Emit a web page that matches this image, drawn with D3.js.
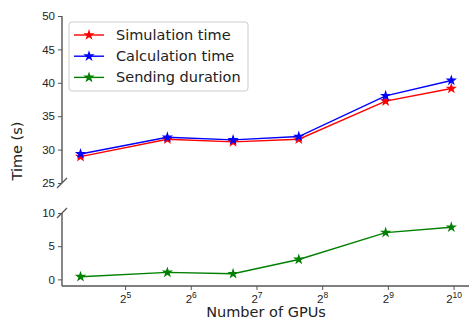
<!DOCTYPE html>
<html>
<head>
<meta charset="utf-8">
<script src="https://cdn.jsdelivr.net/npm/d3@7"></script>
<style>
  body { margin: 0; background: #fff; }
  svg { display: block; font-family: "DejaVu Sans", sans-serif; }
</style>
</head>
<body>
<svg id="chart" width="469" height="325"></svg>
<script>
// data
const gpus = [20, 50, 100, 200, 500, 1000];
const simulationTime = [28.95, 31.55, 31.15, 31.55, 37.25, 39.15];
const calculationTime = [29.35, 31.85, 31.45, 31.95, 38.05, 40.35];
const sendingDuration = [0.4, 1.05, 0.85, 3.0, 7.05, 7.85];
const xTickExps = [5, 6, 7, 8, 9, 10];
const topTicks = [25, 30, 35, 40, 45, 50];
const bottomTicks = [0, 5, 10];

const series = [
  { name: "Simulation time", values: simulationTime, color: "red", panel: "top" },
  { name: "Calculation time", values: calculationTime, color: "blue", panel: "top" },
  { name: "Sending duration", values: sendingDuration, color: "green", panel: "bottom" }
];

const svg = d3.select("svg#chart");
const left = 62, right = 470;
const axisColor = "#555";

const x = d3.scaleLog().base(2)
  .domain([Math.pow(2, 4.04), Math.pow(2, 10.25)])
  .range([left, right]);

const yTop = d3.scaleLinear().domain([25, 50]).range([183, 16]);
const yBottom = d3.scaleLinear().domain([-1, 10]).range([286, 213]);

// top panel y axis
svg.append("g")
  .attr("transform", `translate(${left},0)`)
  .call(d3.axisLeft(yTop).tickValues(topTicks).tickSize(4).tickPadding(3))
  .call(g => g.select(".domain").attr("d", `M0,${yTop(25)}V${yTop(50)}`));

// bottom panel y axis
svg.append("g")
  .attr("transform", `translate(${left},0)`)
  .call(d3.axisLeft(yBottom).tickValues(bottomTicks).tickSize(4).tickPadding(3))
  .call(g => g.select(".domain").attr("d", `M0,${yBottom(10)}V${yBottom(-1)}`));

// x axis (bottom panel)
const xAxis = svg.append("g")
  .attr("transform", `translate(0,${yBottom(-1)})`)
  .call(d3.axisBottom(x).tickValues(xTickExps.map(e => Math.pow(2, e))).tickSize(4).tickPadding(3).tickFormat(""));
xAxis.select(".domain").attr("d", `M${left},0H${right}`);

xAxis.selectAll(".tick").each(function(d, i) {
  const t = d3.select(this).append("text")
    .attr("fill", "#222")
    .attr("y", 17)
    .attr("text-anchor", "middle")
    .attr("font-size", 11.5);
  t.append("tspan").text("2");
  t.append("tspan").attr("dy", -5).attr("font-size", 8.5).text(xTickExps[i]);
});

svg.selectAll(".domain").attr("stroke", axisColor).attr("stroke-width", 1.4);
svg.selectAll(".tick line").attr("stroke", axisColor).attr("stroke-width", 1);
svg.selectAll(".tick text").attr("fill", "#222").style("font-size", "11.5px");

// break marks
[yTop(25), yBottom(10)].forEach(yy => {
  svg.append("line")
    .attr("x1", left - 5).attr("y1", yy + 5)
    .attr("x2", left + 5).attr("y2", yy - 5)
    .attr("stroke", axisColor).attr("stroke-width", 1.2);
});

// lines and markers
const star = d3.symbol().type(d3.symbolStar).size(40);
series.forEach(s => {
  const y = s.panel === "top" ? yTop : yBottom;
  const line = d3.line()
    .x((d, i) => x(gpus[i]))
    .y(d => y(d));
  svg.append("path")
    .datum(s.values)
    .attr("fill", "none")
    .attr("stroke", s.color)
    .attr("stroke-width", 1.4)
    .attr("d", line);
  svg.append("g").selectAll("path")
    .data(s.values)
    .join("path")
    .attr("transform", (d, i) => `translate(${x(gpus[i])},${y(d)})`)
    .attr("d", star)
    .attr("fill", s.color);
});

// legend
const legend = svg.append("g").attr("transform", "translate(69,22)");
legend.append("rect")
  .attr("width", 179).attr("height", 69)
  .attr("rx", 3)
  .attr("fill", "white").attr("fill-opacity", 0.85)
  .attr("stroke", "#ccc");
series.forEach((s, i) => {
  const yy = 13 + i * 21.2;
  legend.append("line")
    .attr("x1", 5).attr("x2", 35).attr("y1", yy).attr("y2", yy)
    .attr("stroke", s.color).attr("stroke-width", 1.4);
  legend.append("path")
    .attr("transform", `translate(20,${yy})`)
    .attr("d", star)
    .attr("fill", s.color);
  legend.append("text")
    .attr("x", 47).attr("y", yy + 5)
    .attr("font-size", 14.5)
    .attr("fill", "#222")
    .text(s.name);
});

// axis labels
svg.append("text")
  .attr("x", 266).attr("y", 317)
  .attr("text-anchor", "middle")
  .attr("font-size", 14.5)
  .attr("fill", "#222")
  .text("Number of GPUs");

svg.append("text")
  .attr("transform", "translate(22,151) rotate(-90)")
  .attr("text-anchor", "middle")
  .attr("font-size", 14.5)
  .attr("fill", "#222")
  .text("Time (s)");
</script>
</body>
</html>
